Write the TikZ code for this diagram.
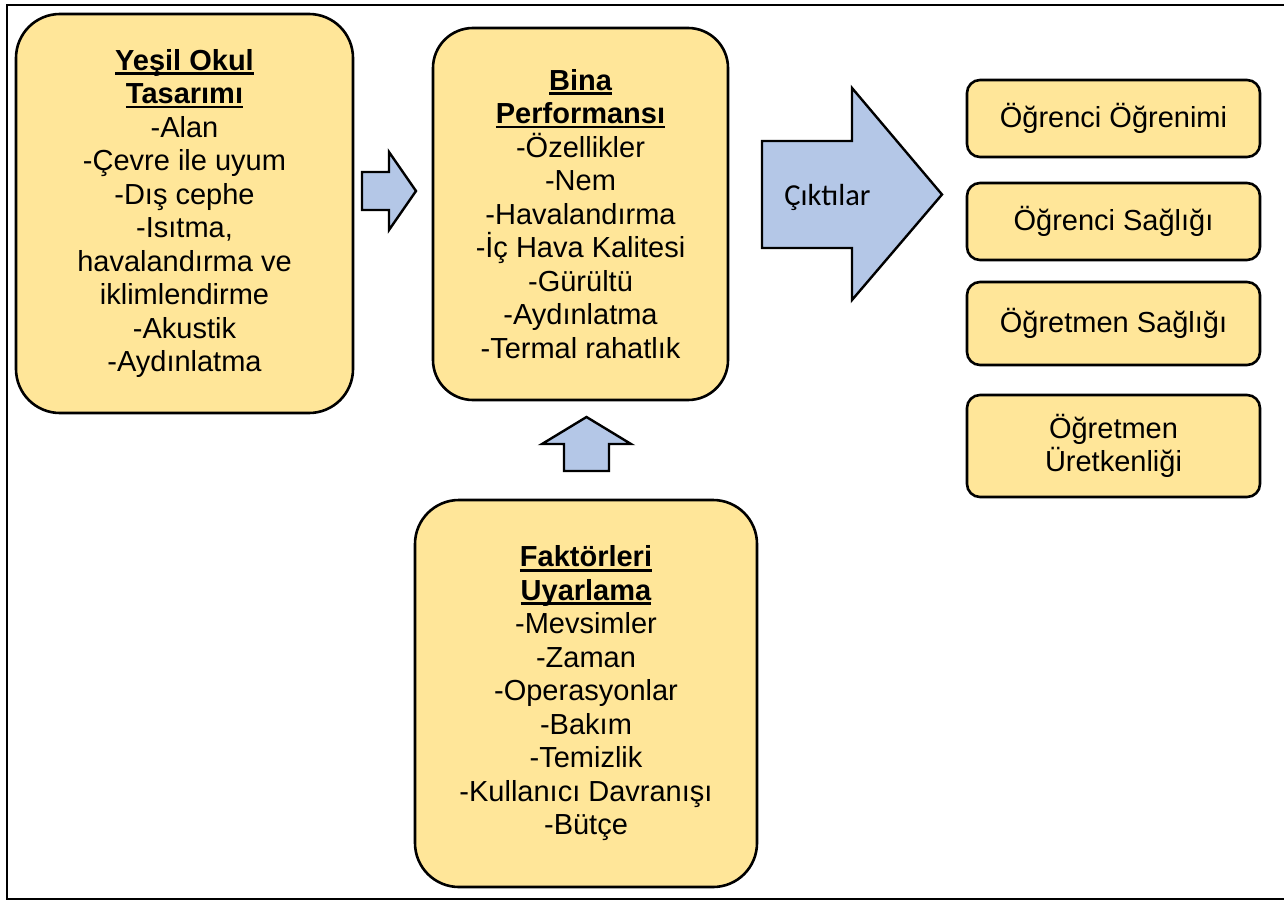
\documentclass[tikz,border=0pt]{standalone}
\usepackage{fontspec}
\setmainfont{Liberation Sans}
\newfontfamily\calibfont{Carlito}
\definecolor{boxyellow}{RGB}{255,230,153}
\definecolor{arrowblue}{RGB}{180,199,231}
\newcommand\hdrline[1]{\setbox0\hbox{\bfseries #1}\rlap{\rule[-4.6pt]{\wd0}{2.6pt}}\box0}
\tikzset{
  ybox/.style={draw=black, fill=boxyellow, line width=2.6pt, align=center, inner sep=0pt,
    font=\fontsize{29}{33.5}\selectfont},
  bigbox/.style={ybox, rounded corners=44pt},
  smallbox/.style={ybox, rounded corners=13pt},
  blockarrow/.style={draw=black, fill=arrowblue, line width=2.4pt, line join=miter},
  frame/.style={draw=black, line width=2.2pt}
}
\begin{document}
\begin{tikzpicture}[x=1pt,y=-1pt]
\useasboundingbox (0,0) rectangle (1284,902);
\clip (0,0) rectangle (1284,902);
\fill[white] (0,0) rectangle (1284,902);
\draw[frame] (7,5) rectangle (1300,899);

\node[bigbox, minimum width=337pt, minimum height=399pt] (yesil) at (184.5,213.5)
  {\hdrline{Yeşil Okul}\\ \hdrline{Tasarımı}\\ -Alan\\ -Çevre ile uyum\\ -Dış cephe\\ -Isıtma,\\ havalandırma ve\\ iklimlendirme\\ -Akustik\\ -Aydınlatma};

\node[bigbox, rounded corners=40pt, minimum width=295pt, minimum height=372pt] (bina) at (580.5,214)
  {\hdrline{Bina}\\ \hdrline{Performansı}\\ -Özellikler\\ -Nem\\ -Havalandırma\\ -İç Hava Kalitesi\\ -Gürültü\\ -Aydınlatma\\ -Termal rahatlık};

\node[bigbox, minimum width=342pt, minimum height=387pt] (faktor) at (586,693.5)
  {\hdrline{Faktörleri}\\ \hdrline{Uyarlama}\\ -Mevsimler\\ -Zaman\\ -Operasyonlar\\ -Bakım\\ -Temizlik\\ -Kullanıcı Davranışı\\ -Bütçe};

\node[smallbox, minimum width=293pt, minimum height=77pt] (o1) at (1113.5,118.5) {Öğrenci Öğrenimi};
\node[smallbox, minimum width=293pt, minimum height=77pt] (o2) at (1113.5,221.5) {Öğrenci Sağlığı};
\node[smallbox, minimum width=293pt, minimum height=83pt] (o3) at (1113.5,323.5) {Öğretmen Sağlığı};
\node[smallbox, minimum width=293pt, minimum height=102pt] (o4) at (1113.5,446) {Öğretmen\\ Üretkenliği};

% block arrows
\draw[blockarrow] (362,172) -- (389,172) -- (389,152) -- (416,191) -- (389,230) -- (389,210) -- (362,210) -- cycle;
\draw[blockarrow] (564,471) -- (564,444) -- (542,444) -- (586.5,417) -- (631,444) -- (609,444) -- (609,471) -- cycle;
\draw[blockarrow] (762,141) -- (852,141) -- (852,88) -- (942,194.5) -- (852,300) -- (852,248) -- (762,248) -- cycle;
\node[font=\calibfont\fontsize{30.5}{35}\selectfont, inner sep=0pt, anchor=base] (cikti) at (827.5,205) {Çıktılar};
\end{tikzpicture}
\end{document}
